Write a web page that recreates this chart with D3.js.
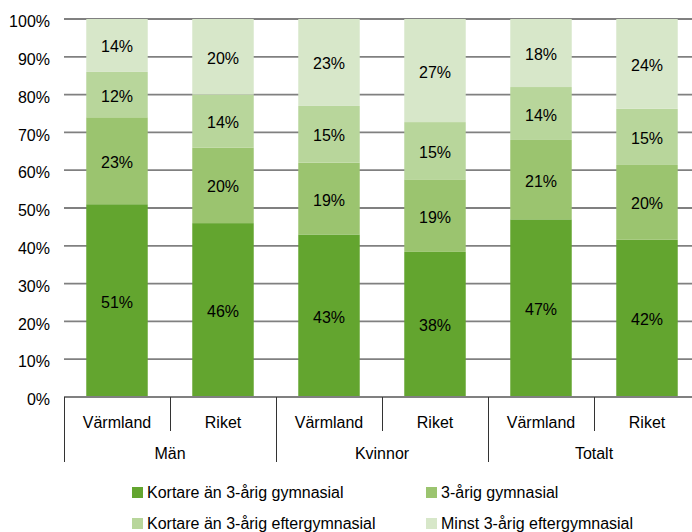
<!DOCTYPE html>
<html>
<head>
<meta charset="utf-8">
<script src="https://cdn.jsdelivr.net/npm/d3@7/dist/d3.min.js"></script>
<style>
  html, body { margin: 0; padding: 0; background: #fff; }
  svg { display: block; }
  text { font-family: Arial, "Liberation Sans", sans-serif; fill: #000; }
</style>
</head>
<body>
<svg id="chart" width="692" height="532"></svg>
<script>
// Utbildningsnivå per region och kön (andel av befolkningen)
const groups = ["Män", "Kvinnor", "Totalt"];
const regions = ["Värmland", "Riket"];
const seriesNames = [
  "Kortare än 3-årig gymnasial",
  "3-årig gymnasial",
  "Kortare än 3-årig eftergymnasial",
  "Minst 3-årig eftergymnasial"
];
// one value per bar: Män Värmland, Män Riket, Kvinnor Värmland, Kvinnor Riket, Totalt Värmland, Totalt Riket
const kortareGymnasial = [51, 46, 43, 38, 47, 42];
const treArigGymnasial = [23, 20, 19, 19, 21, 20];
const kortareEftergymnasial = [12, 14, 15, 15, 14, 15];
const minstTreArigEftergymnasial = [14, 20, 23, 27, 18, 24];
const yTicks = [0, 0.1, 0.2, 0.3, 0.4, 0.5, 0.6, 0.7, 0.8, 0.9, 1.0];

const colors = ["#63a52f", "#9bc46f", "#b8d69b", "#d7e7c9"];

const seriesValues = [kortareGymnasial, treArigGymnasial, kortareEftergymnasial, minstTreArigEftergymnasial];

// rows for the stack
const bars = [];
groups.forEach(g => regions.forEach(r => bars.push({ key: g + "|" + r, group: g, region: r })));
bars.forEach((b, i) => seriesNames.forEach((s, j) => { b[s] = seriesValues[j][i]; }));

const svg = d3.select("#chart");
const plotLeft = 64, plotRight = 700, plotTop = 19, plotBottom = 397;

const x = d3.scaleBand()
  .domain(bars.map(b => b.key))
  .range([plotLeft, plotRight])
  .paddingInner(0.42)
  .paddingOuter(0.21);

const y = d3.scaleLinear().domain([0, 1]).range([plotBottom, plotTop]);

const stack = d3.stack().keys(seriesNames).offset(d3.stackOffsetExpand);
const layers = stack(bars);

// horizontal gridlines
svg.append("g")
  .selectAll("line")
  .data(yTicks.filter(t => t > 0))
  .join("line")
  .attr("x1", plotLeft).attr("x2", plotRight)
  .attr("y1", d => y(d)).attr("y2", d => y(d))
  .attr("stroke", "#808080")
  .attr("stroke-width", 1.8);

// y axis labels
const yAxis = d3.axisLeft(y).tickValues(yTicks).tickFormat(d3.format(".0%")).tickSize(0).tickPadding(14);
const yg = svg.append("g").attr("transform", `translate(${plotLeft},0)`).call(yAxis);
yg.select(".domain").remove();
yg.selectAll("text")
  .attr("font-size", 16)
  .attr("font-family", "Arial, 'Liberation Sans', sans-serif")
  .attr("fill", "#000")
  .attr("dy", "0.48em");

// stacked segments
const layerG = svg.append("g")
  .selectAll("g")
  .data(layers)
  .join("g")
  .attr("fill", (d, i) => colors[i]);

layerG.selectAll("rect")
  .data(d => d.map(p => ({ p, key: d.key, bar: p.data })))
  .join("rect")
  .attr("x", d => x(d.bar.key))
  .attr("width", x.bandwidth())
  .attr("y", d => y(d.p[1]))
  .attr("height", d => y(d.p[0]) - y(d.p[1]));

// value labels
layerG.selectAll("text")
  .data(d => d.map(p => ({ p, key: d.key, bar: p.data })))
  .join("text")
  .attr("x", d => x(d.bar.key) + x.bandwidth() / 2)
  .attr("y", d => (y(d.p[0]) + y(d.p[1])) / 2 + 7)
  .attr("text-anchor", "middle")
  .attr("font-size", 16)
  .attr("fill", "#000")
  .text(d => d.bar[d.key] + "%");

// category axis
const axisG = svg.append("g");
axisG.append("line")
  .attr("x1", plotLeft).attr("x2", plotRight)
  .attr("y1", plotBottom).attr("y2", plotBottom)
  .attr("stroke", "#808080").attr("stroke-width", 1.8);

const step = x.step();
bars.forEach((b, i) => {
  const xs = x(b.key) - x.paddingInner() * step / 2;
  const isGroupStart = i % regions.length === 0;
  axisG.append("line")
    .attr("x1", Math.round(xs) + 0.5).attr("x2", Math.round(xs) + 0.5)
    .attr("y1", plotBottom).attr("y2", isGroupStart ? 462 : 431)
    .attr("stroke", "#333").attr("stroke-width", 1);
});
axisG.append("line")
  .attr("x1", plotRight).attr("x2", plotRight)
  .attr("y1", plotBottom).attr("y2", 462)
  .attr("stroke", "#333").attr("stroke-width", 1);

svg.append("g")
  .selectAll("text")
  .data(bars)
  .join("text")
  .attr("x", d => x(d.key) + x.bandwidth() / 2)
  .attr("y", 428)
  .attr("text-anchor", "middle")
  .attr("font-size", 16)
  .text(d => d.region);

svg.append("g")
  .selectAll("text")
  .data(groups)
  .join("text")
  .attr("x", g => {
    const first = x(g + "|" + regions[0]);
    const last = x(g + "|" + regions[regions.length - 1]);
    return (first + last + x.bandwidth()) / 2;
  })
  .attr("y", 459)
  .attr("text-anchor", "middle")
  .attr("font-size", 16)
  .text(g => g);

// legend, two columns
const legendPos = [[132, 487], [426, 487], [132, 518], [426, 518]];
const legend = svg.append("g")
  .selectAll("g")
  .data(seriesNames)
  .join("g")
  .attr("transform", (d, i) => `translate(${legendPos[i][0]},${legendPos[i][1]})`);
legend.append("rect")
  .attr("width", 11).attr("height", 11)
  .attr("fill", (d, i) => colors[i]);
legend.append("text")
  .attr("x", 15).attr("y", 11)
  .attr("font-size", 16)
  .text(d => d);
</script>
</body>
</html>
